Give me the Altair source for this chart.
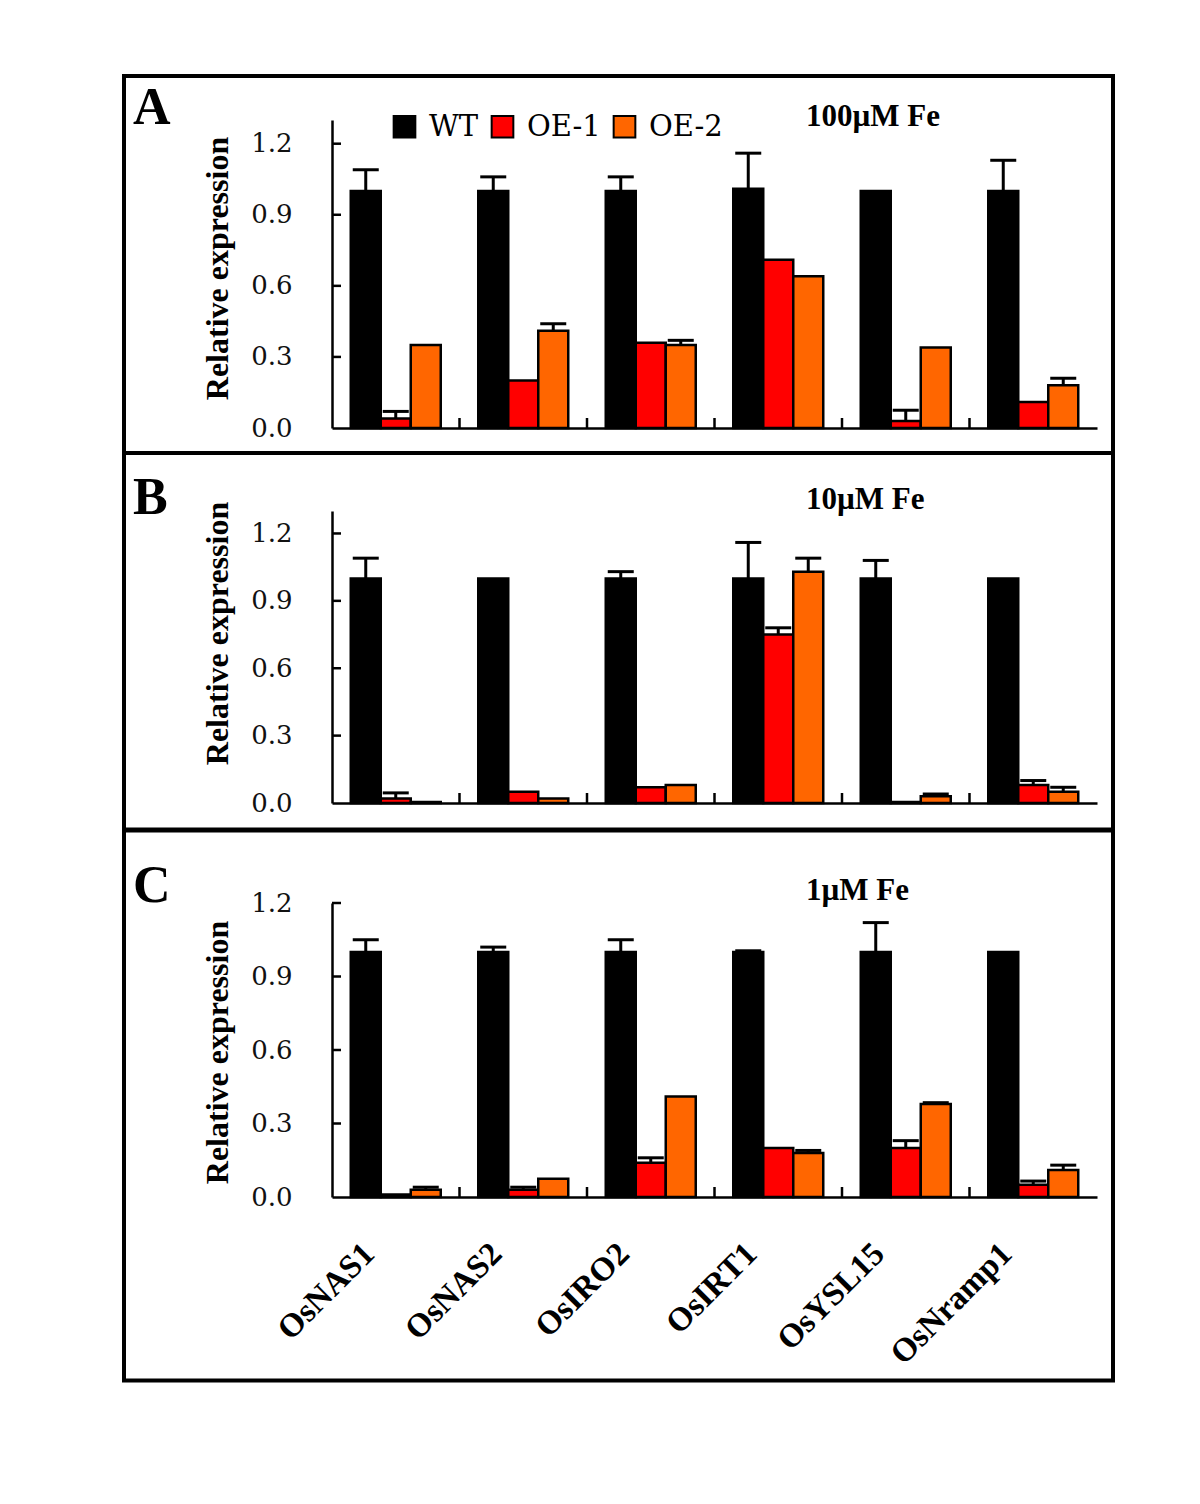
import altair as alt
import pandas as pd

genes = ["OsNAS1", "OsNAS2", "OsIRO2", "OsIRT1", "OsYSL15", "OsNramp1"]
lines = ["WT", "OE-1", "OE-2"]
colors = ["#000000", "#ff0000", "#ff6600"]
y_ticks = [0.0, 0.3, 0.6, 0.9, 1.2]
inner_ticks = [0.3, 0.6, 0.9, 1.2]

# Panel A : 100 µM Fe
a_wt = [1.0, 1.0, 1.0, 1.01, 1.0, 1.0]
a_wt_err = [0.09, 0.06, 0.06, 0.15, 0.0, 0.13]
a_oe1 = [0.04, 0.2, 0.36, 0.71, 0.03, 0.11]
a_oe1_err = [0.03, 0.0, 0.0, 0.0, 0.045, 0.0]
a_oe2 = [0.35, 0.41, 0.35, 0.64, 0.34, 0.18]
a_oe2_err = [0.0, 0.03, 0.02, 0.0, 0.0, 0.03]

# Panel B : 10 µM Fe
b_wt = [1.0, 1.0, 1.0, 1.0, 1.0, 1.0]
b_wt_err = [0.09, 0.0, 0.03, 0.16, 0.08, 0.0]
b_oe1 = [0.02, 0.05, 0.07, 0.75, 0.005, 0.08]
b_oe1_err = [0.025, 0.0, 0.0, 0.03, 0.0, 0.02]
b_oe2 = [0.005, 0.02, 0.08, 1.03, 0.03, 0.05]
b_oe2_err = [0.0, 0.0, 0.0, 0.06, 0.01, 0.02]

# Panel C : 1 µM Fe
c_wt = [1.0, 1.0, 1.0, 1.0, 1.0, 1.0]
c_wt_err = [0.05, 0.02, 0.05, 0.005, 0.12, 0.0]
c_oe1 = [0.01, 0.03, 0.14, 0.2, 0.2, 0.05]
c_oe1_err = [0.0, 0.01, 0.02, 0.0, 0.03, 0.015]
c_oe2 = [0.03, 0.075, 0.41, 0.18, 0.38, 0.11]
c_oe2_err = [0.01, 0.0, 0.0, 0.01, 0.005, 0.02]

letters = ["A", "B", "C"]
conditions = ["100µM Fe", "10µM Fe", "1µM Fe"]

W = 765


def make_df(vals, errs):
    rows = []
    for li, line in enumerate(lines):
        for gi, g in enumerate(genes):
            v = vals[li][gi]
            e = errs[li][gi]
            rows.append(dict(gene=g, line=line, value=v, err=e, hi=v + e))
    return pd.DataFrame(rows)


def panel(letter, cond, vals, errs, ymax, height, frame_top, frame_bottom,
          letter_y, cond_y, title_y, show_legend, show_labels):
    df = make_df(vals, errs)
    xscale = alt.Scale(domain=genes, paddingInner=0, paddingOuter=0)
    if show_labels:
        xaxis = alt.Axis(title=None, ticks=False, domainColor="black", domainWidth=2.5,
                         labelAngle=315, labelFont="Liberation Serif", labelFontSize=33,
                         labelFontWeight="bold", labelColor="black", labelPadding=40,
                         labelOffset=-38, labelAlign="right", labelBaseline="top")
    else:
        xaxis = alt.Axis(title=None, ticks=False, labels=False, domainColor="black",
                         domainWidth=2.5)
    xenc = alt.X("gene:N", sort=genes, scale=xscale, axis=xaxis)
    xoff = alt.XOffset("line:N", sort=lines,
                       scale=alt.Scale(domain=lines, paddingInner=0, paddingOuter=0.625))
    yscale = alt.Scale(domain=[0, ymax], nice=False, zero=True)
    yaxis = alt.Axis(title="Relative expression", values=y_ticks, format=".1f", ticks=False,
                     grid=False, domainColor="black", domainWidth=2.5,
                     labelFont="DejaVu Serif", labelFontSize=26, labelColor="#111111",
                     labelPadding=40, titleFont="Liberation Serif", titleFontSize=32,
                     titleFontWeight="bold", titleColor="black", titlePadding=16,
                     titleY=title_y)
    if show_legend:
        leg = alt.Legend(orient="none", legendX=58, legendY=-8, direction="horizontal",
                         title=None, symbolType="square", symbolSize=470,
                         symbolStrokeColor="black", symbolStrokeWidth=2, symbolOpacity=1,
                         labelFont="DejaVu Serif", labelFontSize=29, labelColor="black",
                         labelOffset=10, columnPadding=8)
        cenc = alt.Color("line:N", sort=lines, scale=alt.Scale(domain=lines, range=colors),
                         legend=leg)
    else:
        cenc = alt.Color("line:N", sort=lines, scale=alt.Scale(domain=lines, range=colors),
                         legend=None)

    bars = alt.Chart(df).mark_bar(stroke="black", strokeWidth=2.5, opacity=1).encode(
        x=xenc, xOffset=xoff,
        y=alt.Y("value:Q", scale=yscale, axis=yaxis),
        color=cenc,
    )
    errdf = df[df.err > 0]
    err_rule = alt.Chart(errdf).mark_rule(color="black", strokeWidth=3).encode(
        x=xenc, xOffset=xoff,
        y=alt.Y("value:Q", scale=yscale, axis=yaxis),
        y2="hi:Q",
    )
    err_cap = alt.Chart(errdf).mark_tick(color="black", size=26, thickness=3,
                                         orient="horizontal", opacity=1).encode(
        x=xenc, xOffset=xoff,
        y=alt.Y("hi:Q", scale=yscale, axis=yaxis),
    )
    bdf = pd.DataFrame({"gene": genes[1:]})
    btick = alt.Chart(bdf).mark_rule(color="black", strokeWidth=2.5).encode(
        x=alt.X("gene:N", sort=genes, scale=xscale, axis=xaxis, bandPosition=0),
        y=alt.value(height), y2=alt.value(height - 10),
    )
    ytdf = pd.DataFrame({"t": inner_ticks})
    ytick = alt.Chart(ytdf).mark_rule(color="black", strokeWidth=2.5).encode(
        y=alt.Y("t:Q", scale=yscale, axis=yaxis),
        x=alt.value(0), x2=alt.value(9),
    )
    frame = alt.Chart(pd.DataFrame({"k": [0]})).mark_rect(
        fillOpacity=0, stroke="black", strokeWidth=4).encode(
        x=alt.value(-208), x2=alt.value(781),
        y=alt.value(frame_top), y2=alt.value(frame_bottom),
    )
    ltxt = alt.Chart(pd.DataFrame({"t": [letter]})).mark_text(
        font="Liberation Serif", fontSize=52, fontWeight="bold", align="left",
        baseline="middle", color="black").encode(
        text="t:N", x=alt.value(-199), y=alt.value(letter_y))
    ctxt = alt.Chart(pd.DataFrame({"t": [cond]})).mark_text(
        font="Liberation Serif", fontSize=31, fontWeight="bold", align="left",
        baseline="middle", color="black").encode(
        text="t:N", x=alt.value(474), y=alt.value(cond_y))
    return alt.layer(frame, bars, err_rule, err_cap, btick, ytick, ltxt, ctxt).properties(
        width=W, height=height,
        view=alt.ViewBackground(stroke="transparent", strokeWidth=0))


pA = panel(letters[0], conditions[0], [a_wt, a_oe1, a_oe2], [a_wt_err, a_oe1_err, a_oe2_err],
           1.3, 308, -44, 333, -12, -3, 148, True, False)
pB = panel(letters[1], conditions[1], [b_wt, b_oe1, b_oe2], [b_wt_err, b_oe1_err, b_oe2_err],
           1.3, 292, -58, 318.5, -13, -11, 122, False, False)
pC = panel(letters[2], conditions[2], [c_wt, c_oe1, c_oe2], [c_wt_err, c_oe1_err, c_oe2_err],
           1.2, 294, -72.5, 477.5, -17, -12, 149, False, True)

chart = alt.vconcat(pA, pB, pC, spacing=-4).resolve_scale(color="independent").properties(
    padding={"left": 114, "top": 66, "right": 5, "bottom": 5}
).configure_view(strokeWidth=0, stroke="transparent").configure(background="white")

chart.save("out.html", embed_options={"renderer": "svg", "actions": False})
